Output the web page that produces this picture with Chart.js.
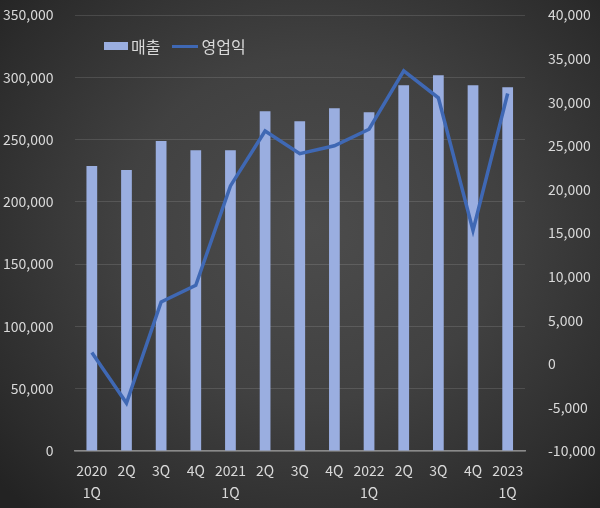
<!DOCTYPE html>
<html>
<head>
<meta charset="utf-8">
<script src="https://cdn.jsdelivr.net/npm/chart.js@4.4.1/dist/chart.umd.min.js"></script>
<style>
  html, body { margin: 0; padding: 0; }
  body { width: 600px; height: 508px; overflow: hidden;
    background: radial-gradient(ellipse 70% 75% at 52% 45%, #4c4c4c 0%, #414141 45%, #2c2c2c 85%, #232323 100%); }
  #wrap { position: relative; width: 600px; height: 508px; }
  canvas { position: absolute; left: 0; top: 0; }
  #legend { position: absolute; left: 104px; top: 34px; font-family: 'Noto Sans CJK KR', sans-serif;
    font-size: 16px; color: #d9d9d9; display: flex; align-items: center; }
  .sw-bar { display: inline-block; width: 24px; height: 8px; background: #9aaee0; margin-right: 3px; }
  .sw-line { display: inline-block; width: 26px; height: 3px; background: #3f68b4; margin: 0 3px 0 12px; }
</style>
</head>
<body>
<div id="wrap">
  <canvas id="c" width="600" height="508"></canvas>
  <div id="legend"><span class="sw-bar"></span><span>매출</span><span class="sw-line"></span><span>영업익</span></div>
</div>
<script>
const categories = [["2020","1Q"],"2Q","3Q","4Q",["2021","1Q"],"2Q","3Q","4Q",["2022","1Q"],"2Q","3Q","4Q",["2023","1Q"]];
const salesLabel = "매출";
const profitLabel = "영업익";
const sales = [228700, 225500, 248800, 241500, 241500, 272800, 264800, 275200, 272000, 293700, 301700, 293700, 292100];
const profit = [1300, -4500, 7100, 9000, 20400, 26700, 24100, 25000, 26900, 33600, 30500, 15300, 31000];
const leftTicks = [0, 350000, 50000];
const rightTicks = [-10000, 40000, 5000];

const fmt = v => v.toLocaleString('en-US');
const font = { family: "'Noto Sans CJK KR', sans-serif", size: 14 };

new Chart(document.getElementById('c'), {
  data: {
    labels: categories,
    datasets: [
      { type: 'line', label: profitLabel, data: profit, yAxisID: 'y2', borderColor: '#3f68b4',
        borderWidth: 3.5, pointRadius: 0, tension: 0, order: 0 },
      { type: 'bar', label: salesLabel, data: sales, yAxisID: 'y', backgroundColor: '#9aaee0',
        categoryPercentage: 1, barPercentage: 0.31, order: 1 }
    ]
  },
  options: {
    responsive: false, animation: false,
    layout: { padding: { top: 15, left: 0, right: 0, bottom: 0 } },
    plugins: { legend: { display: false }, tooltip: { enabled: false } },
    scales: {
      x: {
        grid: { display: false, drawTicks: false },
        border: { display: true, color: '#8a8a8a', width: 1.5 },
        ticks: { color: '#d9d9d9', font: { ...font, lineHeight: '22px' }, padding: 9, maxRotation: 0, autoSkip: false },
        afterFit: s => { s.height = 57; }
      },
      y: {
        position: 'left', min: leftTicks[0], max: leftTicks[1],
        grid: { color: 'rgba(255,255,255,0.12)', drawTicks: false },
        border: { display: false },
        ticks: { stepSize: leftTicks[2], color: '#d9d9d9', font: font, padding: 21, callback: fmt },
        afterFit: s => { s.width = 74.5; s.paddingTop = 0; s.paddingBottom = 0; }
      },
      y2: {
        position: 'right', min: rightTicks[0], max: rightTicks[1],
        grid: { display: false, drawTicks: false },
        border: { display: false },
        ticks: { stepSize: rightTicks[2], color: '#d9d9d9', font: font, padding: 23, callback: fmt },
        afterFit: s => { s.width = 75; s.paddingTop = 0; s.paddingBottom = 0; }
      }
    }
  }
});
</script>
</body>
</html>
